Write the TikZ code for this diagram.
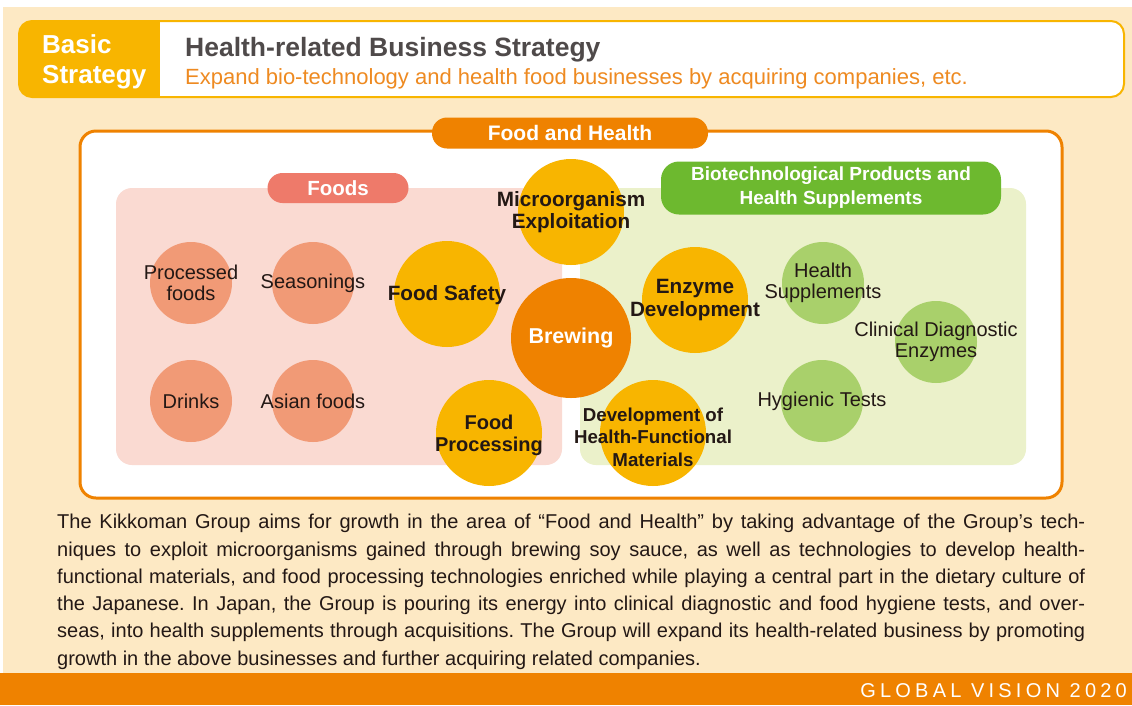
\documentclass[tikz,border=0pt]{standalone}
\usepackage{fontspec}
\setmainfont{Liberation Sans}
\frenchspacing
\definecolor{cream}{HTML}{FDE9C4}
\definecolor{hyellow}{HTML}{F8B500}
\definecolor{korange}{HTML}{EF8200}
\definecolor{pinkbg}{HTML}{FADAD2}
\definecolor{pinkpill}{HTML}{EE7A6A}
\definecolor{salmon}{HTML}{F19A76}
\definecolor{greenbg}{HTML}{EBF1CA}
\definecolor{greenpill}{HTML}{6DB92F}
\definecolor{greencirc}{HTML}{A9D06B}
\definecolor{darktxt}{HTML}{231815}
\definecolor{titlegray}{HTML}{4F4A4A}
\definecolor{suborange}{HTML}{EE8A21}
\tikzset{
  circnode/.style={circle, draw=none, inner sep=0pt, minimum size=#1},
  scirc/.style={circnode=82pt, fill=salmon},
  gcirc/.style={circnode=82pt, fill=greencirc},
  ycirc/.style={circnode=106pt, fill=hyellow},
  ocirc/.style={circnode=120pt, fill=korange},
  ltxt/.style={text=darktxt, align=center, font=\fontsize{20}{20.5}\selectfont, inner sep=0pt},
  btxt/.style={text=darktxt, align=center, font=\fontsize{20.7}{22.5}\selectfont\bfseries, inner sep=0pt},
  pill/.style={rounded corners=15pt, draw=none, text=white, font=\fontsize{21}{24}\selectfont\bfseries, align=center, inner sep=0pt},
}
\begin{document}
\begin{tikzpicture}[x=1pt,y=-1pt]
\path[use as bounding box] (0,0) rectangle (1132,705);
% backgrounds
\fill[white] (0,0) rectangle (1132,705);
\fill[cream] (3,7) rectangle (1132,673);
\fill[korange] (0,673) rectangle (1132,705);
\node[anchor=east, text=white, font=\fontsize{20}{20}\selectfont\addfontfeature{LetterSpace=21}, inner sep=0pt] (footer) at (1127,691) {GLOBAL VISION 2020};
% header
\filldraw[draw=hyellow, line width=2pt, fill=white, rounded corners=13pt] (19,21) rectangle (1124,97);
\begin{scope}
\clip[rounded corners=13pt] (19,21) rectangle (1124,97);
\fill[hyellow] (18,20) rectangle (160,98);
\end{scope}
\node[text=white, align=left, anchor=west, font=\fontsize{26}{30}\selectfont\bfseries, inner sep=0pt] (basic) at (42,62) {Basic\\Strategy};
\node[text=titlegray, anchor=base west, font=\fontsize{26.5}{24}\selectfont\bfseries, inner sep=0pt] (title) at (185,56) {Health-related Business Strategy};
\node[text=suborange, anchor=base west, font=\fontsize{22}{22}\selectfont, inner sep=0pt] (sub) at (185,84) {Expand bio-technology and health food businesses by acquiring companies, etc.};
% outer box
\filldraw[draw=korange, line width=3pt, fill=white, rounded corners=16pt] (80,131) rectangle (1062,498);
\node[pill, fill=korange, minimum width=276pt, minimum height=31pt] (fh) at (570,133) {Food and Health};
% regions
\fill[pinkbg, rounded corners=16pt] (116,188) rectangle (562,465);
\fill[greenbg, rounded corners=16pt] (580,188) rectangle (1026,465);
\node[pill, fill=pinkpill, minimum width=141pt, minimum height=30pt, font=\fontsize{20.5}{24}\selectfont\bfseries] (foods) at (338,188) {Foods};
\node[pill, fill=greenpill, rounded corners=18pt, minimum width=340pt, minimum height=53pt, font=\fontsize{19}{24}\selectfont\bfseries] (bio) at (831,188) {Biotechnological Products and\\Health Supplements};
% salmon circles
\node[scirc] (pf) at (191,283) {};
\node[scirc] (se) at (313,283) {};
\node[scirc] (dr) at (191,401) {};
\node[scirc] (as) at (313,401) {};
\node[ltxt] at (pf) {Processed\\foods};
\node[ltxt] at (se) {Seasonings};
\node[ltxt] at (dr) {Drinks};
\node[ltxt] at (as) {Asian foods};
% green circles
\node[gcirc] (hs) at (823,283) {};
\node[gcirc] (cd) at (936,342) {};
\node[gcirc] (hy) at (822,401) {};
\node[ltxt] at (hs) {Health\\Supplements};
\node[ltxt] at (cd) {Clinical Diagnostic\\Enzymes};
\node[ltxt] at (hy) {Hygienic Tests};
% yellow & orange circles
\node[ycirc] (mo) at (571,212) {};
\node[ycirc] (fs) at (447,294) {};
\node[ycirc] (ed) at (695,300) {};
\node[ycirc] (fp) at (489,433) {};
\node[ycirc] (dh) at (653,433) {};
\node[ocirc] (br) at (571,338) {};
\node[btxt] at (571,212) {Microorganism\\Exploitation};
\node[btxt] at (447,295) {Food Safety};
\node[btxt] at (ed) {Enzyme\\Development};
\node[btxt, font=\fontsize{20}{22}\selectfont\bfseries] at (489,435) {Food\\Processing};
\node[btxt, font=\fontsize{18.7}{22.5}\selectfont\bfseries] at (653,437) {Development of\\Health-Functional\\Materials};
\node[btxt, text=white, font=\fontsize{21.5}{22}\selectfont\bfseries] at (br) {Brewing};
% body text
\node[anchor=north west, text=darktxt, text width=1028pt, align=justify, inner sep=0pt, font=\fontsize{20}{27.3}\selectfont] (body) at (57,514) {The Kikkoman Group aims for growth in the area of “Food and Health” by taking advantage of the Group’s tech-\linebreak niques to exploit microorganisms gained through brewing soy sauce, as well as technologies to develop health-\linebreak functional materials, and food processing technologies enriched while playing a central part in the dietary culture of\linebreak the Japanese. In Japan, the Group is pouring its energy into clinical diagnostic and food hygiene tests, and over-\linebreak seas, into health supplements through acquisitions. The Group will expand its health-related business by promoting\linebreak growth in the above businesses and further acquiring related companies.};
\end{tikzpicture}
\end{document}
